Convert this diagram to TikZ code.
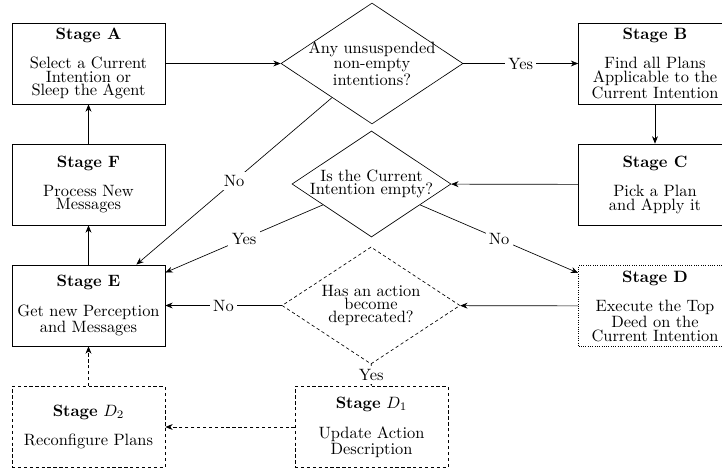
\documentclass[tikz,border=0pt]{standalone}
\usetikzlibrary{shapes.geometric,arrows.meta}
\begin{document}
\begin{tikzpicture}[x=0.6094pt,y=-0.6094pt,
  txt/.style={font=\fontsize{10}{2}\selectfont, align=center},
  stagebox/.style={draw, txt, minimum width=93.2pt, minimum height=49.4pt, inner sep=2pt},
  dec/.style={draw, shape=diamond, inner sep=0pt},
  arr/.style={-{Stealth[length=4.5pt,width=3.6pt]}},
  dsh/.style={dash pattern=on 2pt off 1.6pt},
  lbl/.style={fill=white, font=\fontsize{10}{12}\selectfont, inner sep=2pt}]
\useasboundingbox (0,0) rectangle (722,470);
% stage boxes
\node[stagebox] (A) at (88.5,63.5) {\textbf{Stage A}\\[8pt]Select a Current\\Intention or\\Sleep the Agent};
\node[stagebox] (F) at (88.5,184.5) {\textbf{Stage F}\\[8pt]Process New\\Messages};
\node[stagebox] (E) at (88.5,305.5) {\textbf{Stage E}\\[8pt]Get new Perception\\and Messages};
\node[stagebox,dsh] (D2) at (88.5,427) {\textbf{Stage} $D_2$\\[8pt]Reconfigure Plans};
\node[stagebox,dsh] (D1) at (371.5,427) {\textbf{Stage} $D_1$\\[8pt]Update Action\\Description};
\node[stagebox] (B) at (655,63.5) {\textbf{Stage B}\\[8pt]Find all Plans\\Applicable to the\\Current Intention};
\node[stagebox] (C) at (655,184.5) {\textbf{Stage C}\\[8pt]Pick a Plan\\and Apply it};
\node[stagebox,densely dotted] (D) at (655,306) {\textbf{Stage D}\\[8pt]Execute the Top\\Deed on the\\Current Intention};
% decisions
\node[dec, minimum width=110.9pt, minimum height=73.7pt] (q1) at (372,63.5) {};
\node[txt] (q1t) at (q1) {Any unsuspended\\non-empty\\intentions?};
\node[dec, minimum width=96.9pt, minimum height=64.6pt] (q2) at (371.5,184) {};
\node[txt] (q2t) at (q2) {Is the Current\\Intention empty?};
\node[dec, dsh, minimum width=108.5pt, minimum height=71.3pt] (q3) at (371,305.5) {};
\node[txt] (q3t) at (q3) {Has an action\\become\\deprecated?};
% connectors
\draw[arr] (A) -- (q1);
\draw[arr] (q1) -- node[lbl] (l1) {Yes} (B);
\draw[arr] (B) -- (C);
\draw[arr] (C) -- (q2);
\draw[arr] (q1) -- node[lbl] (l2) {No} (E);
\draw[arr] (q2) -- node[lbl] (l3) {Yes} (E);
\draw[arr] (q2) -- node[lbl] (l4) {No} (D);
\draw[arr] (D) -- (q3);
\draw[arr] (q3) -- node[lbl] (l5) {No} (E);
\draw[arr,dsh] (q3) -- node[lbl] (l6) {Yes} (D1);
\draw[arr,dsh] (D1) -- (D2);
\draw[arr,dsh] (D2) -- (E);
\draw[arr] (E) -- (F);
\draw[arr] (F) -- (A);
\end{tikzpicture}
\end{document}
